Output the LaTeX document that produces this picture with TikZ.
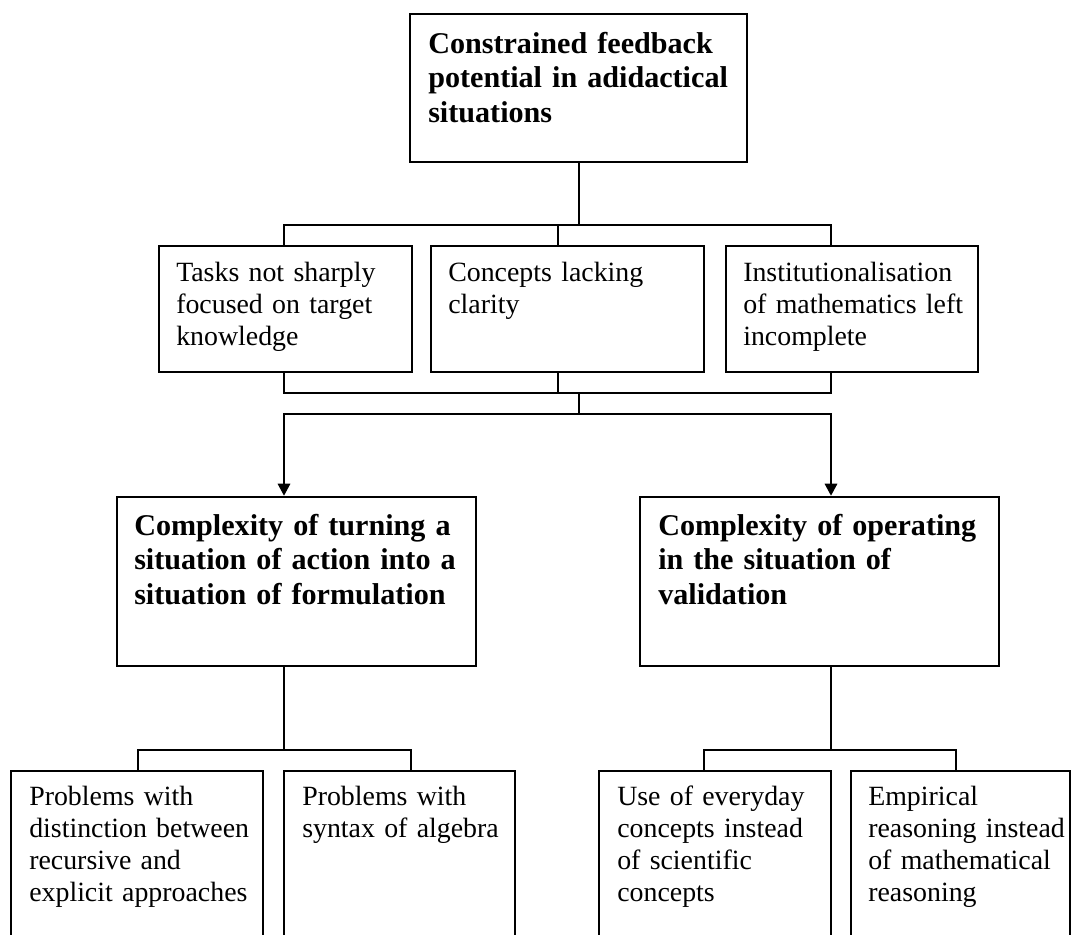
\documentclass[tikz,border=0pt]{standalone}
\usepackage{fontspec}
\setmainfont{Liberation Serif}
\usetikzlibrary{arrows.meta,fit}
\begin{document}
\begin{tikzpicture}[x=0.75pt,y=-0.75pt,
  thinbox/.style={draw=black, line width=0.9pt, inner sep=0pt},
  thickbox/.style={draw=black, line width=2pt, inner sep=0pt},
  conn/.style={draw=black, line width=0.9pt},
  rtxt/.style={inner sep=0pt, anchor=base west, align=left, text width=300pt,
    font=\fontsize{20.9pt}{24.2pt}\selectfont},
  btxt/.style={inner sep=0pt, anchor=base west, align=left, text width=320pt,
    font=\fontsize{22.6pt}{26.2pt}\selectfont\bfseries},
  tip/.style={line width=0.9pt, {Triangle[length=9pt,width=9.5pt]}-{Triangle[length=9pt,width=9.5pt]}}
]
\useasboundingbox (0,0) rectangle (1072,935);
\fill[white] (0,0) rectangle (1072,935);
\clip (0,0) rectangle (1072,935);

% boxes
\node[thickbox, fit={(410,14) (747,162)}] (T) {};
\node[thinbox, fit={(159,246) (412,372)}] (M1) {};
\node[thinbox, fit={(431,246) (704,372)}] (M2) {};
\node[thinbox, fit={(726,246) (978,372)}] (M3) {};
\node[thickbox, fit={(117,497) (476,666)}] (B1) {};
\node[thickbox, fit={(640,497) (999,666)}] (B2) {};
\node[thinbox, fit={(11,771) (263,950)}] (L1) {};
\node[thinbox, fit={(284,771) (515,950)}] (L2) {};
\node[thinbox, fit={(599,771) (831,950)}] (R1) {};
\node[thinbox, fit={(851,771) (1070,950)}] (R2) {};

% texts
\node[btxt] (Tt) at (428,53) {Constrained feedback\\potential in adidactical\\situations};
\node[rtxt] (M1t) at (176,281) {Tasks not sharply\\focused on target\\knowledge};
\node[rtxt] (M2t) at (448,281) {Concepts lacking\\clarity};
\node[rtxt] (M3t) at (743,281) {Institutionalisation\\of mathematics left\\incomplete};
\node[btxt] (B1t) at (134,535) {Complexity of turning a\\situation of action into a\\situation of formulation};
\node[btxt] (B2t) at (658,535) {Complexity of operating\\in the situation of\\validation};
\node[rtxt] (L1t) at (29,805) {Problems with\\distinction between\\recursive and\\explicit approaches};
\node[rtxt] (L2t) at (302,805) {Problems with\\syntax of algebra};
\node[rtxt] (R1t) at (617,805) {Use of everyday\\concepts instead\\of scientific\\concepts};
\node[rtxt] (R2t) at (868,805) {Empirical\\reasoning instead\\of mathematical\\reasoning};

% junction points
\coordinate (jt) at (579,225);
\coordinate (jtl) at (284,225);
\coordinate (jtm) at (558,225);
\coordinate (jtr) at (831,225);
\coordinate (jbl) at (284,393);
\coordinate (jbm) at (558,393);
\coordinate (jbr) at (831,393);
\coordinate (jc) at (579,393);
\coordinate (jd) at (579,414);
\coordinate (jal) at (284,414);
\coordinate (jar) at (831,414);
\coordinate (kl) at (284,750);
\coordinate (kll) at (138,750);
\coordinate (klr) at (411,750);
\coordinate (kr) at (831,750);
\coordinate (krl) at (704,750);
\coordinate (krr) at (956,750);

% connectors
\draw[conn] (T.south -| jt) -- (jt);
\draw[conn] (M1.north -| jtl) -- (jtl) -- (jtr) -- (M3.north -| jtr);
\draw[conn] (M2.north -| jtm) -- (jtm);
\draw[conn] (M1.south -| jbl) -- (jbl) -- (jbr) -- (M3.south -| jbr);
\draw[conn] (M2.south -| jbm) -- (jbm);
\draw[conn] (jc) -- (jd);
\draw[tip] (B1.north -| jal) -- (jal) -- (jar) -- (B2.north -| jar);
\draw[conn] (B1.south -| kl) -- (kl);
\draw[conn] (L1.north -| kll) -- (kll) -- (klr) -- (L2.north -| klr);
\draw[conn] (B2.south -| kr) -- (kr);
\draw[conn] (R1.north -| krl) -- (krl) -- (krr) -- (R2.north -| krr);
\end{tikzpicture}
\end{document}
